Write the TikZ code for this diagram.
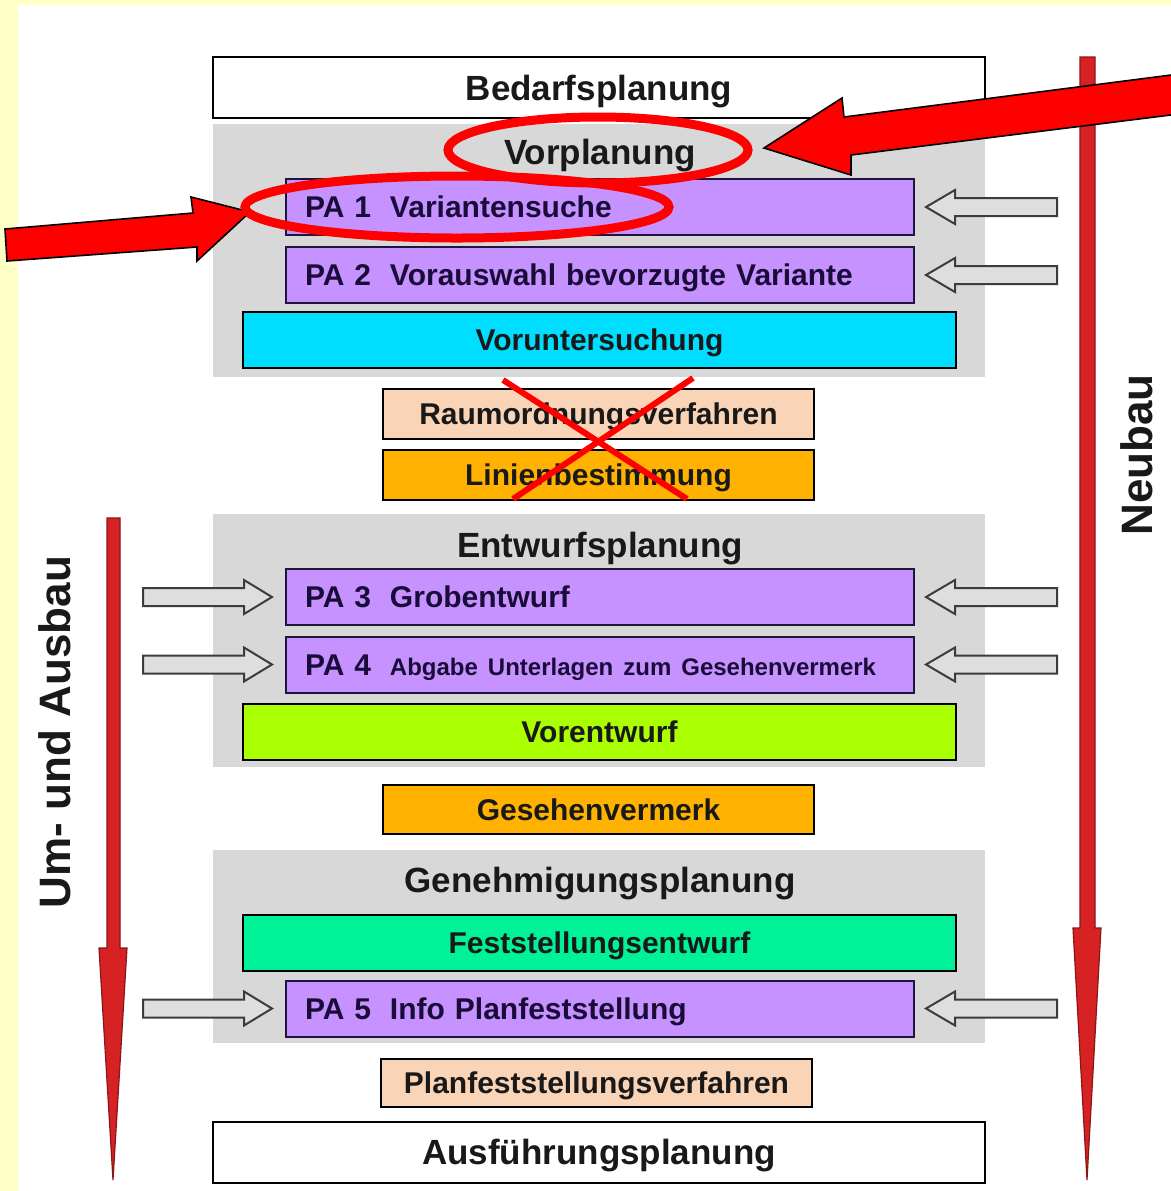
\documentclass[tikz,border=0pt]{standalone}
\usepackage{fontspec}
\setmainfont{Liberation Sans}
\usetikzlibrary{backgrounds}
\definecolor{bgyellow}{RGB}{255,255,200}
\definecolor{panelgrey}{RGB}{216,216,216}
\definecolor{pafill}{RGB}{198,146,255}
\definecolor{paline}{RGB}{30,20,60}
\definecolor{patext}{RGB}{26,12,56}
\definecolor{cyanbox}{RGB}{0,222,255}
\definecolor{peachbox}{RGB}{250,212,182}
\definecolor{orangebox}{RGB}{255,178,0}
\definecolor{limebox}{RGB}{170,255,0}
\definecolor{mintbox}{RGB}{0,242,152}
\definecolor{hollowfill}{RGB}{222,222,222}
\definecolor{hollowline}{RGB}{60,60,60}
\definecolor{longred}{RGB}{214,34,34}
\newcommand{\boxline}{1pt}
\newcommand{\headfont}{\bfseries\fontsize{17.5}{20}\selectfont}
\newcommand{\boxfont}{\bfseries\fontsize{15}{18}\selectfont}
\newcommand{\smallfont}{\bfseries\fontsize{12}{14}\selectfont}
\newcommand{\sidefont}{\bfseries\fontsize{22}{26}\selectfont}
\newcommand{\palabel}[1]{\makebox[42.5pt][l]{#1}}
\tikzset{
  headcentre/.style={text height=12.6pt, text depth=0pt},
  boxcentre/.style={text height=10.8pt, text depth=0pt},
  panel/.style={fill=panelgrey, minimum width=386pt, inner sep=0pt},
  stage/.style={draw=black, line width=\boxline, fill=white, minimum width=386pt, minimum height=30.5pt, font=\headfont, text=black!90, headcentre},
  headtext/.style={font=\headfont, text=black!90, inner sep=0pt, headcentre},
  pabox/.style={draw=paline, line width=\boxline, fill=pafill, text width=295pt, inner xsep=9.5pt, minimum height=28pt, align=left, font=\boxfont, text=patext, boxcentre},
  widebox/.style={draw=black, line width=\boxline, minimum width=356.5pt, minimum height=28pt, font=\boxfont, text=black!90, boxcentre},
  midbox/.style={draw=black, line width=\boxline, minimum width=215.5pt, minimum height=25pt, font=\boxfont, text=black!90, boxcentre},
  sidetext/.style={font=\sidefont, text=black!90, rotate=90},
  hollow/.style={draw=hollowline, fill=hollowfill, line width=1pt},
  longarrow/.style={fill=longred, draw=longred!65!black, line width=0.6pt},
  redmark/.style={draw=black, fill=red, line width=0.8pt, line join=miter},
  redring/.style={draw=red, line width=4.5pt},
  redcross/.style={draw=red, line width=3pt}
}
\begin{document}
\begin{tikzpicture}[x=0.5pt, y=-0.5pt]
\useasboundingbox (0,0) rectangle (1171,1191);
\begin{scope}[on background layer]
\fill[bgyellow] (0,0) rectangle (1171,1191);
\fill[white] (18,5) rectangle (1171,1191);
\node[panel, minimum height=126.5pt] (panel1) at (599,250.5) {};
\node[panel, minimum height=126.5pt] (panel2) at (599,640.5) {};
\node[panel, minimum height=96.5pt] (panel3) at (599,946.5) {};
\end{scope}
%stages
\node[stage] (bedarf) at (599,87.5) {Bedarfsplanung};
\node[headtext] (vorpl) at (600,152) {Vorplanung};
\node[headtext] (entw) at (600,545) {Entwurfsplanung};
\node[headtext] (genehm) at (600,880) {Genehmigungsplanung};
\node[stage] (ausf) at (599,1152) {Ausführungsplanung};
%Vorplanung
\node[pabox] (pa1) at (600,207) {\palabel{PA 1}Variantensuche};
\node[pabox] (pa2) at (600,275) {\palabel{PA 2}Vorauswahl bevorzugte Variante};
\node[widebox, fill=cyanbox] (vorunt) at (599.5,340) {Voruntersuchung};
\node[midbox, fill=peachbox] (raum) at (598.5,413.5) {Raumordnungsverfahren};
\node[midbox, fill=orangebox] (linien) at (598.5,474.5) {Linienbestimmung};
%Entwurfsplanung
\node[pabox] (pa3) at (600,597) {\palabel{PA 3}Grobentwurf};
\node[pabox] (pa4) at (600,664.5) {\palabel{PA 4}{\smallfont Abgabe Unterlagen zum Gesehenvermerk}};
\node[widebox, fill=limebox] (vorentw) at (599.5,731.5) {Vorentwurf};
\node[midbox, fill=orangebox, minimum height=24.5pt] (gesehen) at (598.5,809.5) {Gesehenvermerk};
%Genehmigungsplanung
\node[widebox, fill=mintbox] (festst) at (599.5,942.5) {Feststellungsentwurf};
\node[pabox] (pa5) at (600,1008.5) {\palabel{PA 5}Info Planfeststellung};
\node[midbox, fill=peachbox, minimum height=24pt] (planf) at (596.5,1083) {Planfeststellungsverfahren};
%side arrows
\draw[longarrow] (1080,57) -- (1095,57) -- (1095,928) -- (1101,928) -- (1087,1180) -- (1073,928) -- (1080,928) -- cycle;
\draw[longarrow] (107,518) -- (120,518) -- (120,948) -- (127,948) -- (113,1180) -- (99,948) -- (107,948) -- cycle;
\node[sidetext] (neubau) at (1137,455) {Neubau};
\node[sidetext] (umbau) at (55,732) {Um- und Ausbau};
%hollow arrows
\draw[hollow, shift={(0,207)}] (1057,-9) -- (955,-9) -- (955,-17) -- (926,0) -- (955,17) -- (955,9) -- (1057,9) -- cycle;
\draw[hollow, shift={(0,275)}] (1057,-9) -- (955,-9) -- (955,-17) -- (926,0) -- (955,17) -- (955,9) -- (1057,9) -- cycle;
\draw[hollow, shift={(0,597)}] (1057,-9) -- (955,-9) -- (955,-17) -- (926,0) -- (955,17) -- (955,9) -- (1057,9) -- cycle;
\draw[hollow, shift={(0,664.5)}] (1057,-9) -- (955,-9) -- (955,-17) -- (926,0) -- (955,17) -- (955,9) -- (1057,9) -- cycle;
\draw[hollow, shift={(0,1008.5)}] (1057,-9) -- (955,-9) -- (955,-17) -- (926,0) -- (955,17) -- (955,9) -- (1057,9) -- cycle;
\draw[hollow, shift={(0,597)}] (143,-9) -- (244,-9) -- (244,-17) -- (272,0) -- (244,17) -- (244,9) -- (143,9) -- cycle;
\draw[hollow, shift={(0,664.5)}] (143,-9) -- (244,-9) -- (244,-17) -- (272,0) -- (244,17) -- (244,9) -- (143,9) -- cycle;
\draw[hollow, shift={(0,1008.5)}] (143,-9) -- (244,-9) -- (244,-17) -- (272,0) -- (244,17) -- (244,9) -- (143,9) -- cycle;
%red marks
\draw[redcross] (503,380) -- (687,499);
\draw[redcross] (513,499) -- (693,378);
\draw[redmark] (764,148) -- (842,98) -- (844,117) -- (1190,72.6) -- (1190,112.6) -- (851,155) -- (851,175) -- cycle;
\draw[redmark] (250,212) -- (197,261) -- (197,247) -- (7,261) -- (5,229) -- (193,213) -- (191,197) -- cycle;
\draw[redring] (598,150) ellipse [x radius=150, y radius=33];
\draw[redring] (457,207) ellipse [x radius=212, y radius=31];
\end{tikzpicture}
\end{document}
